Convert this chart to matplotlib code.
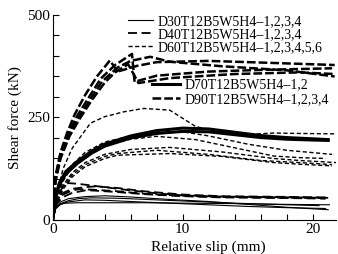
import matplotlib
matplotlib.use('Agg')
import matplotlib.pyplot as plt
from matplotlib.lines import Line2D
from matplotlib.ticker import MultipleLocator

plt.rcParams['font.family'] = ['Liberation Serif', 'DejaVu Serif']

# ---- data ----
# D30 : thin solid
d30_x = [
    [0, 0.2, 0.5, 1, 2, 4, 7, 10, 14, 18, 21.3],
    [0, 0.2, 0.6, 1.2, 2, 3, 5, 8, 11, 14, 17, 20.5],
    [0, 0.2, 0.6, 1.2, 2.5, 4, 6, 9, 12, 15, 18, 21],
    [0, 0.2, 0.6, 1.2, 2.5, 4, 6, 9, 12, 15, 18, 21.2],
]
d30_y = [
    [0, 30, 38, 41, 42, 42, 42, 41, 40, 38, 37],
    [0, 28, 40, 47, 52, 54, 53, 49, 45, 41, 38, 35],
    [0, 26, 38, 44, 49, 48, 45, 41, 37, 33, 30, 28],
    [0, 30, 44, 52, 57, 59, 56, 50, 45, 38, 31, 25],
]
# D40 : long dashes
d40_x = [
    [0, 0.3, 0.8, 1.2, 2, 3, 4, 6, 8, 10, 13, 16, 19, 21.2],
    [0, 0.3, 0.8, 1.5, 2.5, 3.3, 5, 7, 10, 13, 16, 19, 21.2],
    [0, 0.3, 0.8, 1.5, 2, 3, 5, 7, 10, 13, 16, 19, 21],
    [0, 0.3, 0.8, 1.5, 2.5, 3, 5, 7, 10, 13, 16, 19, 21],
]
d40_y = [
    [0, 55, 82, 90, 88, 84, 80, 72, 65, 60, 57, 56, 55, 54],
    [0, 45, 66, 76, 80, 82, 78, 70, 62, 58, 57, 56, 55],
    [0, 45, 62, 72, 75, 74, 70, 64, 59, 56, 55, 54, 53],
    [0, 40, 56, 66, 72, 72, 68, 63, 58, 55, 54, 53, 52],
]
# D60 : short dashes
d60_x = [
    [0, 0.3, 0.8, 1.5, 2.9, 4, 5.5, 7, 9, 11, 13, 14.5, 17, 19, 21.8],
    [0, 0.3, 0.8, 1.5, 2.5, 4, 6, 8, 10, 12, 15, 18, 21.5],
    [0, 0.3, 0.8, 1.5, 2.5, 4, 6, 8, 11, 14, 17, 19, 21],
    [0, 0.3, 0.8, 1.5, 2.5, 4, 6, 9, 13, 17, 19, 21.8],
    [0, 0.3, 0.8, 1.5, 2.5, 4, 5, 8, 12, 16, 19, 21.5],
    [0, 0.3, 0.8, 1.5, 2.5, 4, 5, 9, 13, 17, 19, 21.5],
]
d60_y = [
    [0, 65, 125, 175, 236, 252, 264, 272, 268, 228, 213, 208, 212, 211, 210],
    [0, 55, 100, 135, 165, 190, 205, 213, 215, 205, 185, 170, 160],
    [0, 50, 95, 130, 158, 181, 197, 204, 196, 176, 156, 152, 150],
    [0, 45, 85, 115, 140, 160, 172, 177, 166, 150, 145, 140],
    [0, 42, 80, 110, 135, 155, 162, 170, 160, 145, 140, 135],
    [0, 40, 75, 105, 130, 150, 158, 162, 155, 140, 136, 132],
]
# D70 : thick solid
d70_x = [
    [0, 0.2, 0.5, 1, 1.9, 3, 4, 6, 8, 10, 12, 14, 16, 18, 20, 21.2],
    [0, 0.2, 0.5, 1, 1.9, 3, 4, 6, 8, 10, 12, 14, 16, 18, 20, 21.2],
]
d70_y = [
    [0, 55, 90, 118, 143, 168, 185, 205, 218, 224, 222, 214, 206, 201, 198, 196],
    [0, 50, 85, 112, 138, 163, 180, 200, 211, 216, 215, 208, 201, 197, 195, 194],
]
# D90 : thick dashes
d90_x = [
    [0, 0.2, 0.6, 1.1, 1.7, 2.5, 3.4, 4.4, 5, 6.5, 8, 12, 16, 21.7],
    [0, 0.2, 0.6, 1.2, 1.9, 2.8, 3.7, 4.8, 6.1, 6.3, 8, 12, 16, 21.5],
    [0, 0.2, 0.6, 1.2, 2.0, 2.9, 3.8, 5, 6, 7.5, 9, 13, 18, 21.7],
    [0, 0.2, 0.6, 1.3, 2.1, 3.0, 4.0, 4.8, 5.8, 6.6, 9, 14, 19, 21.7],
]
d90_y = [
    [0, 105, 165, 212, 258, 305, 350, 389, 362, 376, 385, 388, 384, 378],
    [0, 100, 160, 210, 255, 300, 345, 378, 405, 337, 352, 362, 366, 370],
    [0, 95, 155, 205, 250, 295, 338, 372, 388, 398, 386, 375, 365, 350],
    [0, 92, 150, 205, 248, 292, 335, 360, 380, 334, 346, 356, 360, 356],
]

labels = ['D30T12B5W5H4\u20131,2,3,4', 'D40T12B5W5H4\u20131,2,3,4',
          'D60T12B5W5H4\u20131,2,3,4,5,6', 'D70T12B5W5H4\u20131,2',
          'D90T12B5W5H4\u20131,2,3,4']

styles = [
    dict(color='k', lw=0.8, ls='-'),
    dict(color='k', lw=1.3, ls=(0, (5, 2.5))),
    dict(color='k', lw=1.0, ls=(0, (3, 1.8))),
    dict(color='k', lw=2.2, ls='-'),
    dict(color='k', lw=1.8, ls=(0, (3.5, 1.2))),
]

fig = plt.figure(figsize=(3.38, 2.54), dpi=100)
ax = fig.add_axes([0.156, 0.134, 0.838, 0.807])

groups = [(d30_x, d30_y), (d40_x, d40_y), (d60_x, d60_y), (d70_x, d70_y), (d90_x, d90_y)]
for (xs, ys), st in zip(groups, styles):
    for x, y in zip(xs, ys):
        ax.plot(x, y, **st)

ax.set_xlim(0, 21.8)
ax.set_ylim(0, 500)
ax.spines['top'].set_visible(False)
ax.spines['right'].set_visible(False)
ax.xaxis.set_major_locator(MultipleLocator(10))
ax.xaxis.set_minor_locator(MultipleLocator(2))
ax.yaxis.set_major_locator(MultipleLocator(250))
ax.yaxis.set_minor_locator(MultipleLocator(50))
ax.tick_params(which='both', direction='in', length=4, width=0.8, labelsize=11, pad=2)

ax.set_xlabel('Relative slip (mm)', fontsize=11)
ax.set_ylabel('Shear force (kN)', fontsize=11)
ax.xaxis.set_label_coords(0.548, -0.1)
ax.yaxis.set_label_coords(-0.108, 0.5)

h = [Line2D([], [], **st) for st in styles]
leg1 = ax.legend(h[:3], labels[:3], loc='upper left', bbox_to_anchor=(0.265, 1.0),
                 frameon=False, fontsize=10, handlelength=1.8, handletextpad=0.35,
                 labelspacing=0.0, borderpad=0, borderaxespad=0)
ax.add_artist(leg1)
ax.legend(h[3:], labels[3:], loc='upper left', bbox_to_anchor=(0.35, 0.69),
          frameon=False, fontsize=10, handlelength=2.0, handletextpad=0.35,
          labelspacing=0.12, borderpad=0, borderaxespad=0)

fig.savefig('out.png', dpi=100)
